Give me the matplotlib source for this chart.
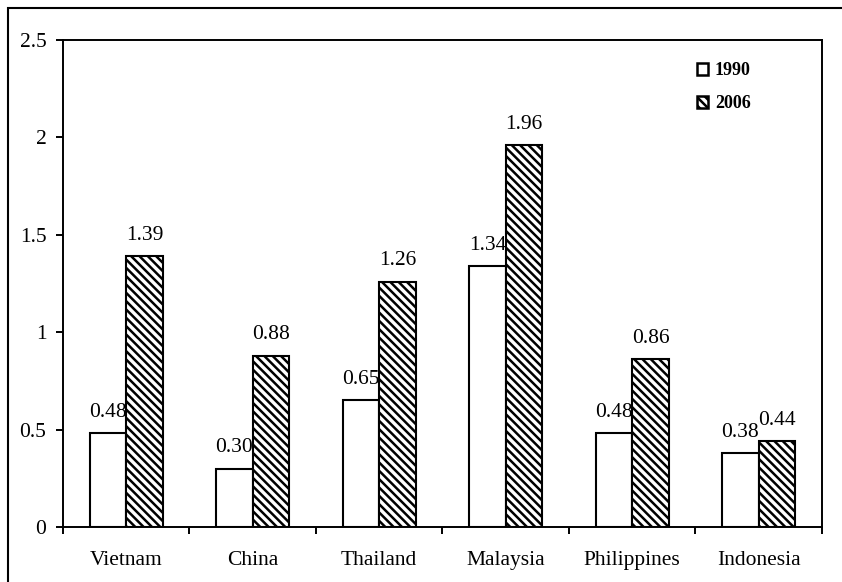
import numpy as np
import matplotlib
matplotlib.use("Agg")
import matplotlib.pyplot as plt
from matplotlib.patches import Rectangle

# values
countries = ["Vietnam", "China", "Thailand", "Malaysia", "Philippines", "Indonesia"]
vals_1990 = [0.48, 0.30, 0.65, 1.34, 0.48, 0.38]
vals_2006 = [1.39, 0.88, 1.26, 1.96, 0.86, 0.44]
series_names = ["1990", "2006"]
yticks = [0, 0.5, 1, 1.5, 2, 2.5]
ytick_labels = ["0", "0.5", "1", "1.5", "2", "2.5"]

plt.rcParams['font.family'] = ['Liberation Serif', 'DejaVu Serif']
plt.rcParams['hatch.linewidth'] = 1.8
plt.rcParams['hatch.color'] = 'black'

fig = plt.figure(figsize=(8.42, 5.82), dpi=100)
ax = fig.add_axes([0.0748, 0.0945, 0.9014, 0.8368])

x = np.arange(len(countries))
w = 0.29

b1 = ax.bar(x - w / 2, vals_1990, w, color='white', edgecolor='black',
            linewidth=1.5, label=series_names[0], zorder=2)
b2 = ax.bar(x + w / 2, vals_2006, w, color='white', edgecolor='black',
            linewidth=1.5, hatch='\\\\\\\\', label=series_names[1], zorder=4)

# labels go under the hatched bars, like in the original
for bars in (b1, b2):
    txts = ax.bar_label(bars, fmt='%.2f', padding=8, fontsize=15.5)
    for t in txts:
        t.set_zorder(3)

ax.set_xlim(-0.5, 5.5)
ax.set_ylim(0, 2.5)
ax.set_yticks(yticks)
ax.set_yticklabels(ytick_labels, fontsize=15.5)

# category names at the centres, tick marks on the boundaries
ax.set_xticks(x)
ax.set_xticklabels(countries, fontsize=15.5)
ax.set_xticks(np.arange(-0.5, 6.0, 1.0), minor=True)
ax.tick_params(axis='x', which='major', length=0, pad=17)
ax.tick_params(axis='x', which='minor', length=5, width=1.4, direction='out')
ax.tick_params(axis='y', length=5, width=1.4, direction='out', pad=7)

for s in ax.spines.values():
    s.set_linewidth(1.4)

leg = ax.legend(loc='upper left', bbox_to_anchor=(0.835, 0.955),
                frameon=False, borderpad=0, borderaxespad=0,
                handlelength=0.65, handleheight=0.65, handletextpad=0.35,
                labelspacing=0.9, prop={'size': 13, 'weight': 'bold'})
for p in leg.get_patches():
    p.set_linewidth(1.8)

# outer frame around the figure (runs off right and bottom)
fig.patches.append(Rectangle((8 / 842, -0.1), 1.2, 1 - 8 / 582 + 0.1,
                             transform=fig.transFigure, fill=False,
                             edgecolor='black', linewidth=1.5))

fig.savefig("out.png", dpi=100)
